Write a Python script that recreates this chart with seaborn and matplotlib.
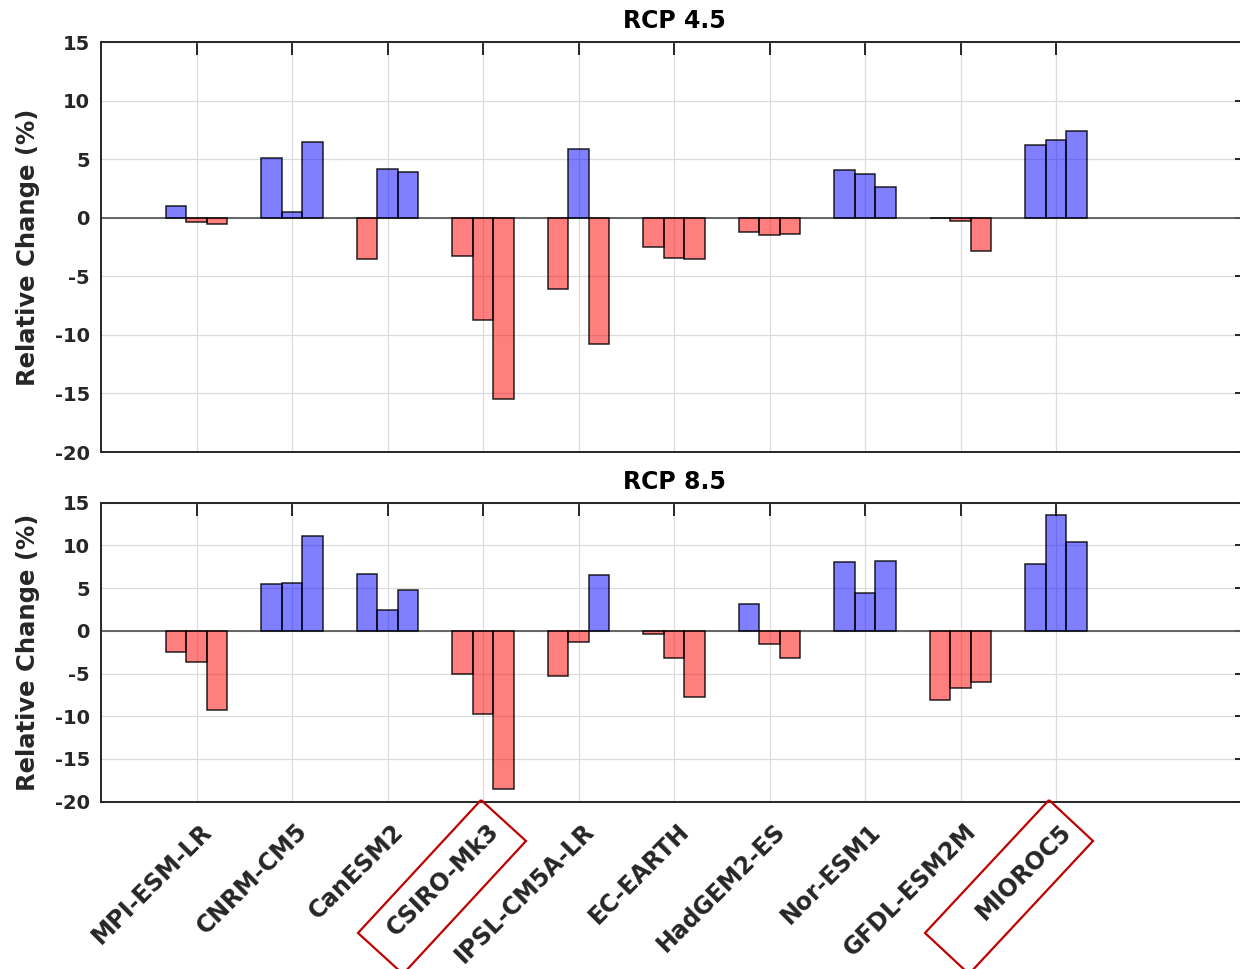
import numpy as np
import pandas as pd
import matplotlib
matplotlib.use("Agg")
import matplotlib.pyplot as plt
from matplotlib.patches import Polygon
from matplotlib.transforms import ScaledTranslation
import seaborn as sns

# Climate models and the three projection periods
models = ["MPI-ESM-LR", "CNRM-CM5", "CanESM2", "CSIRO-Mk3", "IPSL-CM5A-LR",
          "EC-EARTH", "HadGEM2-ES", "Nor-ESM1", "GFDL-ESM2M", "MIOROC5"]
periods = ["period 1", "period 2", "period 3"]

# Relative change (%) per model, RCP 4.5
rcp45_p1 = [1.0, 5.1, -3.5, -3.3, -6.1, -2.5, -1.2, 4.1, -0.05, 6.2]
rcp45_p2 = [-0.4, 0.5, 4.2, -8.75, 5.9, -3.4, -1.5, 3.7, -0.3, 6.6]
rcp45_p3 = [-0.5, 6.5, 3.9, -15.5, -10.8, -3.55, -1.4, 2.6, -2.8, 7.4]

# Relative change (%) per model, RCP 8.5
rcp85_p1 = [-2.5, 5.5, 6.6, -5.0, -5.25, -0.35, 3.1, 8.05, -8.1, 7.8]
rcp85_p2 = [-3.6, 5.6, 2.4, -9.7, -1.25, -3.2, -1.55, 4.4, -6.65, 13.6]
rcp85_p3 = [-9.3, 11.1, 4.75, -18.5, 6.5, -7.7, -3.2, 8.2, -6.0, 10.4]

y_ticks = [-20, -15, -10, -5, 0, 5, 10, 15]
highlighted = ["CSIRO-Mk3", "MIOROC5"]


def long_frame(series):
    rows = []
    for period, values in zip(periods, series):
        for model, v in zip(models, values):
            rows.append({"model": model, "period": period, "value": v})
    return pd.DataFrame(rows)


df45 = long_frame([rcp45_p1, rcp45_p2, rcp45_p3])
df85 = long_frame([rcp85_p1, rcp85_p2, rcp85_p3])

sns.set_style("white")
plt.rcParams["font.family"] = ["DejaVu Sans"]
plt.rcParams["font.weight"] = "bold"

INK = "#262626"
POS = (0.0, 0.0, 1.0, 0.5)
NEG = (1.0, 0.0, 0.0, 0.5)

W, H = 1240, 969
fig = plt.figure(figsize=(W / 100, H / 100), dpi=100)
ax1 = fig.add_axes([101 / W, 1 - 452 / H, 1146 / W, 410 / H])
ax2 = fig.add_axes([101 / W, 1 - 801.7 / H, 1146 / W, 299 / H])


def draw_panel(ax, df, title):
    sns.barplot(data=df, x="model", y="value", hue="period", order=models,
                hue_order=periods, width=0.645, dodge=True, errorbar=None,
                legend=False, saturation=1, ax=ax, zorder=3)
    for p in ax.patches:
        p.set_facecolor(POS if p.get_height() > 0 else NEG)
        p.set_edgecolor((0, 0, 0, 0.85))
        p.set_linewidth(1.1)
    ax.axhline(0, color="#5a5a5a", lw=1.3, zorder=2)
    ax.set_xlim(-1, 11)
    ax.set_ylim(-20, 15)
    ax.set_yticks(y_ticks)
    ax.set_yticklabels([str(t) for t in y_ticks])
    ax.set_xticks(range(len(models)))
    ax.set_axisbelow(True)
    ax.grid(True, color="#dcdcdc", lw=0.9)
    for s in ax.spines.values():
        s.set_color(INK)
        s.set_linewidth(1.4)
    ax.tick_params(axis="both", direction="in", length=9, width=1.4,
                   top=True, right=True, colors=INK, labelsize=14)
    ax.tick_params(axis="y", pad=8)
    ax.set_xlabel("")
    ax.set_ylabel("Relative Change (%)", fontsize=17.5, fontweight="bold",
                  color=INK)
    ax.yaxis.set_label_coords(-0.053, 0.5)
    ax.set_title(title, fontsize=17, fontweight="bold", color="black", pad=10)


draw_panel(ax1, df45, "RCP 4.5")
draw_panel(ax2, df85, "RCP 8.5")

ax1.tick_params(axis="x", labelbottom=False)
ax2.tick_params(axis="x", pad=0)
ax2.set_xticklabels(models, rotation=45, ha="right", va="center",
                    rotation_mode="anchor", fontsize=17,
                    fontweight="bold", color=INK)
# shift the slanted model names below and right of their ticks
shift = ScaledTranslation(12 / 100, -26 / 100, fig.dpi_scale_trans)
for lab in ax2.get_xticklabels():
    lab.set_transform(lab.get_transform() + shift)

# Red frames around the highlighted model names (figure pixel corners)
frames = {
    "CSIRO-Mk3": [(481, 800), (526, 841), (403, 974), (358, 933)],
    "MIOROC5": [(1049, 800), (1093, 841), (969, 974), (925, 933)],
}
for name in highlighted:
    pts = [(x / W, 1 - y / H) for x, y in frames[name]]
    fig.patches.append(Polygon(pts, closed=True, fill=False,
                               edgecolor="#c00000", lw=1.6,
                               transform=fig.transFigure, figure=fig))

fig.savefig("out.png", dpi=100)
